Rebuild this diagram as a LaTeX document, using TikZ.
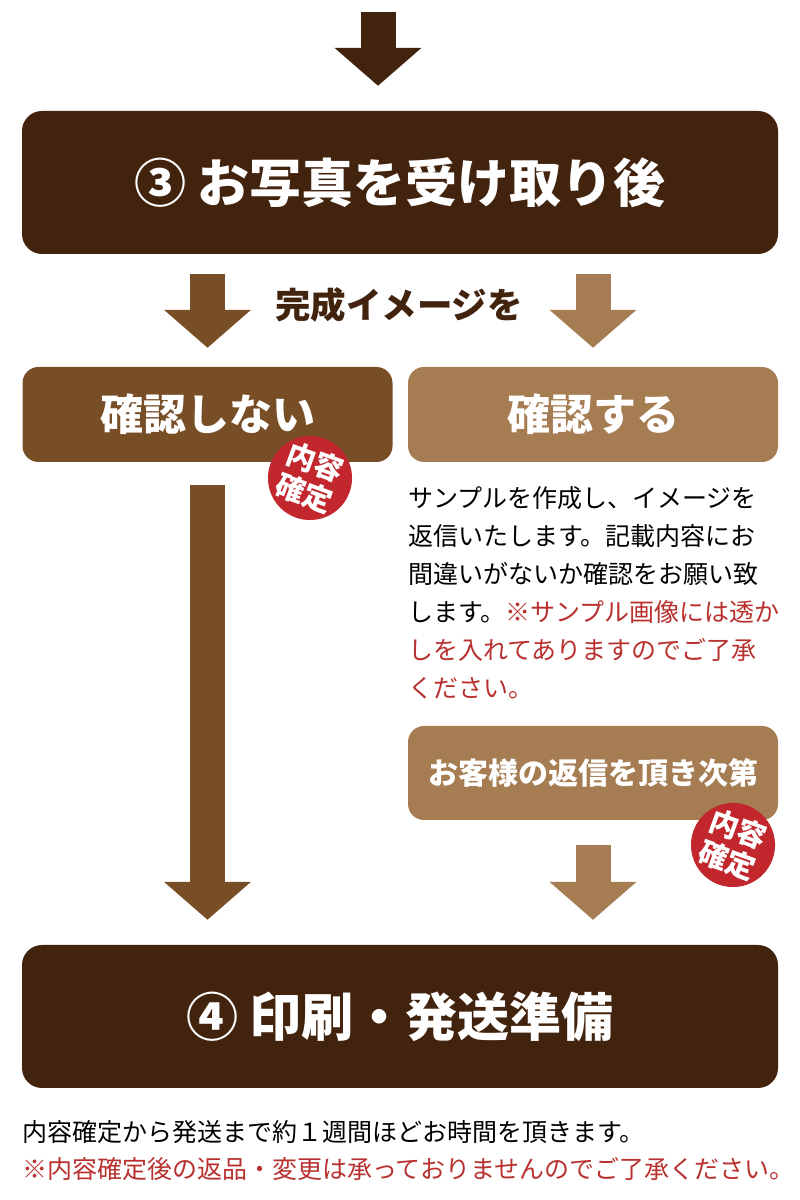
\documentclass[tikz,border=0pt]{standalone}
\usepackage{fontspec}
\setmainfont{Noto Sans CJK JP}
\usetikzlibrary{arrows.meta}
\definecolor{darkbrown}{RGB}{66,35,14}
\definecolor{midbrown}{RGB}{119,78,38}
\definecolor{lightbrown}{RGB}{166,124,82}
\definecolor{stampred}{RGB}{193,39,45}
\definecolor{notered}{RGB}{184,49,47}
\begin{document}
\begin{tikzpicture}[
        x=1pt, y=1pt,
        stepbox/.style={fill=darkbrown, rounded corners=20pt, minimum width=756pt, minimum height=143pt, inner sep=0pt, text=white, font=\fontsize{52}{60}\selectfont\bfseries}, % Main steps
        choice/.style={rounded corners=16pt, minimum width=370pt, minimum height=95pt, inner sep=0pt, text=white, font=\fontsize{43}{50}\selectfont\bfseries}, % Choice boxes
        stamp/.style={circle, fill=stampred, minimum size=84pt, inner sep=0pt, text=white, align=center, rotate=-20, font=\fontsize{29}{33}\selectfont\bfseries}, % Red stamp
        blockarrow/.style={line width=35pt, -{Triangle[width=85pt,length=38pt]}} % Arrow styling
        ]
        \useasboundingbox (0,0) rectangle (800,1200);

        % Define nodes
        \coordinate (start) at (378,1188);
        \node[stepbox] (receive) at (400,1017.5) {③ お写真を受け取り後};
        \node[text=darkbrown, font=\fontsize{35.5}{40}\selectfont\bfseries] (image) at (399,895) {完成イメージを};
        \node[choice, fill=midbrown] (nocheck) at (207.5,785.5) {確認しない};
        \node[choice, fill=lightbrown] (check) at (593,785.5) {確認する};
        \node[stamp] (stampA) at (310,722) {内容\\確定};
        \node[anchor=north west, inner sep=0pt, text width=400pt, align=left, font=\fontsize{25}{38}\selectfont] (info) at (408,714)
            {サンプルを作成し、イメージを\\返信いたします。記載内容にお\\間違いがないか確認をお願い致\\します。{\color{notered}※サンプル画像には透か\\しを入れてありますのでご了承\\ください。}};
        \node[choice, fill=lightbrown, minimum height=94pt, font=\fontsize{30}{36}\selectfont\bfseries] (reply) at (593,427) {お客様の返信を頂き次第};
        \node[stamp] (stampB) at (733,355) {内容\\確定};
        \node[stepbox] (print) at (400,183.5) {④ 印刷・発送準備};
        \node[anchor=north west, inner sep=0pt, align=left, font=\fontsize{25}{37}\selectfont] (note) at (22,80)
            {内容確定から発送まで約１週間ほどお時間を頂きます。\\{\color{notered}※内容確定後の返品・変更は承っておりませんのでご了承ください。}};

        % Draw arrows
        \draw[blockarrow, darkbrown] (start) -- ([yshift=25pt]receive.north -| start);
        \draw[blockarrow, midbrown] ([yshift=-20pt]receive.south -| nocheck.north) -- ([yshift=19pt]nocheck.north);
        \draw[blockarrow, lightbrown] ([yshift=-20pt]receive.south -| check.north) -- ([yshift=19pt]check.north);
        \draw[blockarrow, midbrown] ([yshift=-23pt]nocheck.south) -- ([yshift=25pt]nocheck.south |- print.north);
        \draw[blockarrow, lightbrown] ([yshift=-25pt]reply.south) -- ([yshift=25pt]reply.south |- print.north);

    \end{tikzpicture}
\end{document}
